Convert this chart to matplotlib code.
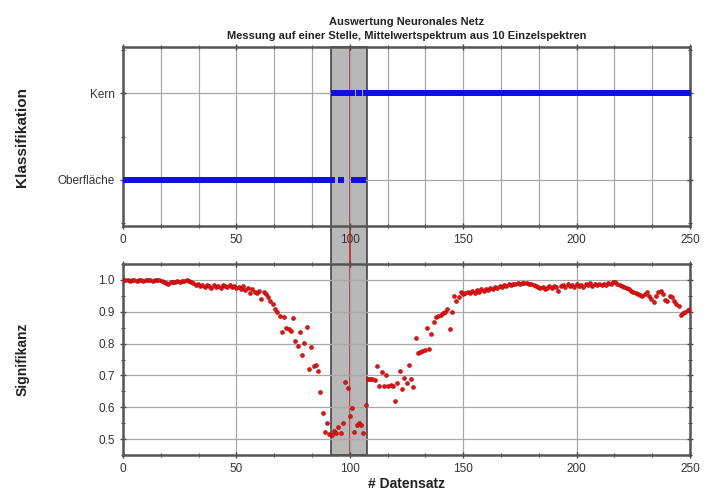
import matplotlib.pyplot as plt
import matplotlib.transforms as mtransforms
from matplotlib.patches import Rectangle
from matplotlib.lines import Line2D
from matplotlib.ticker import MultipleLocator

plt.rcParams['font.family'] = ['Liberation Sans', 'DejaVu Sans']

# data
class_labels = ['Oberfläche', 'Kern']
# classification per Datensatz, 0 = Oberfläche, 1 = Kern
klasse = [0] * 93 + [1] * 3 + [0] + [1] * 5 + [0] * 2 + [1] + [0] * 2 + [1] * 144

signifikanz = [
    1.0, 0.999, 1.0, 0.998, 1.0, 0.999, 0.998, 1.0, 0.999, 0.998,
    0.999, 1.0, 0.999, 0.998, 1.0, 0.999, 1.0, 0.998,
    0.995, 0.99, 0.988, 0.992, 0.995, 0.993, 0.997, 0.994, 0.998, 0.996, 0.999, 0.997,
    0.992, 0.99, 0.985, 0.988, 0.982, 0.985, 0.978, 0.983, 0.98, 0.976,
    0.984, 0.978, 0.982, 0.976, 0.985, 0.98, 0.977, 0.983, 0.979, 0.982,
    0.975, 0.978, 0.972, 0.98, 0.968, 0.974, 0.96, 0.97, 0.963, 0.958,
    0.965, 0.94, 0.962, 0.955, 0.945, 0.935, 0.925, 0.91, 0.898, 0.888,
    0.835, 0.882, 0.85, 0.845, 0.84, 0.879, 0.808, 0.794, 0.836, 0.763,
    0.803, 0.852, 0.72, 0.789, 0.73, 0.734, 0.713, 0.648, 0.583, 0.521,
    0.552, 0.516, 0.513, 0.525, 0.518, 0.539, 0.518, 0.55, 0.678, 0.66,
    0.571, 0.597, 0.523, 0.545, 0.55, 0.545, 0.518, 0.608, 0.689, 0.689,
    0.689, 0.685, 0.729, 0.668, 0.71, 0.668, 0.70, 0.666, 0.67, 0.666,
    0.62, 0.676, 0.713, 0.657, 0.692, 0.676, 0.734, 0.689, 0.664, 0.819,
    0.771, 0.775, 0.776, 0.781, 0.848, 0.784, 0.829, 0.869, 0.882, 0.887,
    0.89, 0.895, 0.898, 0.91, 0.847, 0.9, 0.95, 0.935, 0.945, 0.963,
    0.955, 0.959, 0.962, 0.958, 0.966, 0.96, 0.968, 0.963, 0.97, 0.966,
    0.972, 0.968, 0.975, 0.97, 0.978, 0.974, 0.98, 0.977, 0.984, 0.98,
    0.986, 0.983, 0.988, 0.986, 0.99, 0.988, 0.991, 0.989, 0.99, 0.988,
    0.987, 0.984, 0.98, 0.977, 0.974, 0.978, 0.972, 0.976, 0.98, 0.975,
    0.982, 0.978, 0.966, 0.98, 0.984, 0.978, 0.986, 0.98, 0.984, 0.978,
    0.986, 0.98, 0.985, 0.978, 0.988, 0.984, 0.99, 0.982, 0.986, 0.984,
    0.988, 0.983, 0.987, 0.985, 0.989, 0.986, 0.992, 0.993, 0.987, 0.984,
    0.98, 0.977, 0.975, 0.97, 0.966, 0.962, 0.959, 0.956, 0.952, 0.95,
    0.955, 0.961, 0.948, 0.94, 0.931, 0.95, 0.963, 0.966, 0.955, 0.938,
    0.935, 0.95, 0.945, 0.935, 0.925, 0.919, 0.889, 0.895, 0.9, 0.905,
    0.908,
]
datensatz = list(range(len(signifikanz)))

bereich = (91.5, 107.5)   # shaded range
marke = 100               # red line

fig = plt.figure(figsize=(7.14, 4.99), dpi=100)
fig.patch.set_facecolor('white')
ax1 = fig.add_axes([0.1723, 0.5471, 0.7941, 0.3587])
ax2 = fig.add_axes([0.1723, 0.0882, 0.7941, 0.3827])

grid_kw = dict(color='#a8a8a8', linewidth=0.9)
for ax in (ax1, ax2):
    ax.set_facecolor('none')
    ax.set_xlim(0, 250)
    ax.xaxis.set_major_locator(MultipleLocator(50))
    ax.xaxis.set_minor_locator(MultipleLocator(50 / 3))
    for s in ax.spines.values():
        s.set_color('#555555')
        s.set_linewidth(1.8)
    ax.tick_params(which='both', direction='inout', top=True, right=True,
                   color='#444444', labelsize=8.5, labelcolor='#333333')
    ax.tick_params(which='major', length=5, width=1)
    ax.tick_params(which='minor', length=3, width=0.8)

# top panel
ax1.plot(datensatz, klasse, 's', color='#1010e0', ms=4.3, mew=0, zorder=3)
ax1.set_ylim(-0.53, 1.53)
ax1.set_yticks([0, 1])
ax1.set_yticklabels(class_labels)
ax1.yaxis.set_minor_locator(MultipleLocator(0.5))
ax1.grid(True, which='both', axis='x', **grid_kw)
ax1.grid(True, which='major', axis='y', **grid_kw)
ax1.set_axisbelow(True)
ax1.set_ylabel('Klassifikation', fontsize=11, fontweight='bold', color='#222222')
ax1.yaxis.set_label_coords(-0.165, 0.5)
ax1.set_title('Auswertung Neuronales Netz\nMessung auf einer Stelle, Mittelwertspektrum aus 10 Einzelspektren',
              fontsize=8, fontweight='bold', color='#222222', pad=6, linespacing=1.45)

# bottom panel
ax2.plot(datensatz, signifikanz, 'o', color='#ee1010', mec='#a00000', mew=0.4, ms=2.8, zorder=3)
ax2.set_ylim(0.45, 1.05)
ax2.yaxis.set_major_locator(MultipleLocator(0.1))
ax2.yaxis.set_minor_locator(MultipleLocator(0.05))
ax2.grid(True, which='major', **grid_kw)
ax2.set_axisbelow(True)
ax2.set_ylabel('Signifikanz', fontsize=10, fontweight='bold', color='#222222')
ax2.yaxis.set_label_coords(-0.165, 0.5)
ax2.set_xlabel('# Datensatz', fontsize=10, fontweight='bold', color='#222222', labelpad=1)

# shaded range and marker line across both panels
fig.canvas.draw()
trans = mtransforms.blended_transform_factory(ax2.transData, fig.transFigure)
y0 = ax2.get_position().y0
y1 = ax1.get_position().y1
fig.add_artist(Rectangle((bereich[0], y0), bereich[1] - bereich[0], y1 - y0,
                         transform=trans, facecolor='#b8b8b8', edgecolor='#444444',
                         linewidth=1.2, zorder=-1))
fig.add_artist(Line2D([marke, marke], [y0, y1], transform=trans,
                      color='#cc2020', linewidth=1.2, zorder=-0.5))

fig.savefig('out.png', dpi=100)
